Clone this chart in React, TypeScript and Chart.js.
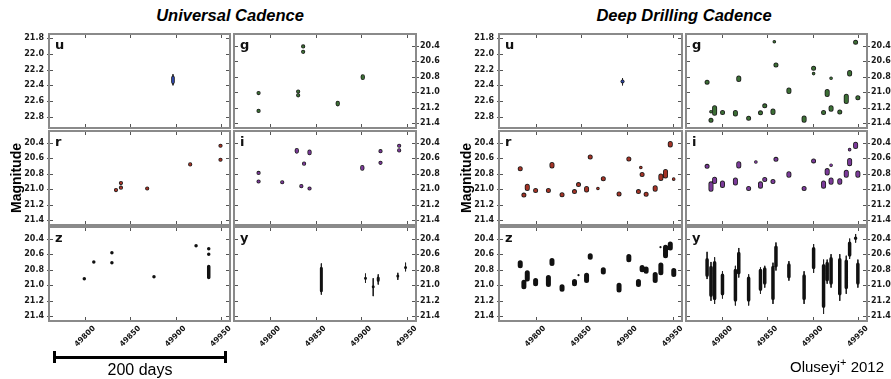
import React, { useEffect, useRef } from "react";
import { Chart, registerables } from "chart.js";
Chart.register(...registerables);

type Cl = [number, number, number]; // [MJD, first marker mag, last marker mag]

const X_MIN = 49760;
const X_MAX = 49960;
const X_TICKS = [49800, 49850, 49900, 49950];
const U_TICKS = [21.8, 22.0, 22.2, 22.4, 22.6, 22.8];
const MAG_TICKS = [20.4, 20.6, 20.8, 21.0, 21.2, 21.4];
const U_RANGE = [21.745, 22.945];
const MAG_RANGE = [20.25, 21.46];

// ---------- Universal Cadence ----------
const ucU: Cl[] = [[49897, 22.3, 22.36]];
const ucUErr: Cl[] = [[49897, 22.26, 22.4]];
const ucG: Cl[] = [
  [49836, 20.41, 20.41], [49836, 20.48, 20.48], [49787, 21.01, 21.01], [49787, 21.24, 21.24],
  [49830.5, 20.99, 20.99], [49830.5, 21.04, 21.04], [49874, 21.135, 21.155], [49901.5, 20.795, 20.815],
];
const ucR: Cl[] = [
  [49834, 21.01, 21.01], [49839.5, 20.92, 20.92], [49839.5, 20.98, 20.98], [49868.5, 20.99, 20.99],
  [49916, 20.68, 20.68], [49949.5, 20.44, 20.44], [49949.5, 20.62, 20.62],
];
const ucI: Cl[] = [
  [49787, 20.79, 20.79], [49787, 20.9, 20.9], [49813, 20.91, 20.91], [49829, 20.495, 20.515],
  [49843, 20.515, 20.535], [49837, 20.67, 20.67], [49834, 20.96, 20.96], [49843, 20.99, 20.99],
  [49901, 20.715, 20.735], [49921, 20.51, 20.51], [49921, 20.66, 20.66], [49941.5, 20.44, 20.44],
  [49941.5, 20.5, 20.5],
];
const ucZ: Cl[] = [
  [49799, 20.915, 20.915], [49809.5, 20.7, 20.7], [49829.5, 20.58, 20.58], [49829.5, 20.71, 20.71],
  [49876, 20.89, 20.89], [49922.5, 20.49, 20.49], [49936.5, 20.53, 20.53], [49936.5, 20.6, 20.6],
  [49936.5, 20.76, 20.9],
];
const ucY: Cl[] = [
  [49856, 20.78, 21.07], [49904.5, 20.91, 20.91], [49913, 21.02, 21.02], [49918.5, 20.905, 20.935],
  [49940, 20.88, 20.88], [49948.5, 20.77, 20.77],
];
const ucYErr: Cl[] = [
  [49856, 20.72, 21.12], [49904.5, 20.85, 20.97], [49913, 20.91, 21.14], [49918.5, 20.86, 20.99],
  [49940, 20.84, 20.93], [49948.5, 20.71, 20.82],
];

// ---------- Deep Drilling Cadence ----------
const ddU: Cl[] = [[49895, 22.35, 22.35]];
const ddUErr: Cl[] = [[49895, 22.31, 22.4]];
const ddG: Cl[] = [
  [49783.3, 20.87, 20.87], [49787.6, 21.36, 21.36], [49791.6, 21.2, 21.27], [49800.4, 21.26, 21.26],
  [49814.6, 21.26, 21.28], [49818.3, 20.815, 20.835], [49829.2, 21.335, 21.335], [49842.3, 21.265, 21.265],
  [49847, 21.175, 21.175], [49856.1, 21.24, 21.26], [49859.4, 20.65, 20.65], [49873.7, 20.97, 20.99],
  [49890.5, 21.33, 21.36], [49901, 20.69, 20.69], [49912, 21.26, 21.26], [49916, 20.99, 21.03],
  [49920.3, 21.2, 21.22], [49929.9, 21.255, 21.255], [49937.1, 21.05, 21.12], [49940.8, 20.745, 20.765],
  [49947.4, 20.355, 20.355], [49949.9, 21.07, 21.07],
];
const ddGSmall: Cl[] = [
  [49787.6, 21.25, 21.25], [49857.6, 20.35, 20.35], [49901, 20.76, 20.76], [49920.3, 20.82, 20.82],
];
const ddR: Cl[] = [
  [49783.2, 20.735, 20.735], [49787.2, 21.075, 21.075], [49790.9, 20.96, 20.99], [49800, 21.015, 21.015],
  [49814, 21.015, 21.015], [49817.9, 20.68, 20.7], [49828.9, 21.07, 21.07], [49842.5, 21.03, 21.03],
  [49846.9, 20.94, 20.94], [49855.7, 20.99, 21.01], [49859.7, 20.585, 20.585], [49874, 20.865, 20.865],
  [49891.2, 21.06, 21.06], [49901.9, 20.61, 20.61], [49912.4, 21.03, 21.03], [49916.4, 20.81, 20.81],
  [49920.8, 21.065, 21.065], [49930.7, 20.98, 21.0], [49936.9, 20.83, 20.86], [49942, 20.77, 20.83],
  [49947.2, 20.41, 20.43],
];
const ddRSmall: Cl[] = [[49868.1, 20.99, 20.99], [49915, 20.72, 20.72], [49950.9, 20.87, 20.87]];
const ddI: Cl[] = [
  [49783.3, 20.705, 20.705], [49787.6, 20.93, 21.0], [49791.6, 20.87, 20.9], [49800.3, 20.92, 20.95],
  [49814.6, 20.88, 20.92], [49818.3, 20.67, 20.7], [49829.2, 20.99, 20.99], [49842.3, 20.93, 20.96],
  [49847, 20.875, 20.875], [49856.1, 20.9, 20.9], [49859.4, 20.615, 20.615], [49873.7, 20.8, 20.82],
  [49890.5, 20.99, 20.99], [49901, 20.635, 20.635], [49912, 20.92, 20.96], [49916, 20.76, 20.79],
  [49920.3, 20.88, 20.91], [49929.9, 20.89, 20.91], [49937.1, 20.78, 20.82], [49940.8, 20.63, 20.67],
  [49947.4, 20.42, 20.45], [49949.9, 20.79, 20.82],
];
const ddISmall: Cl[] = [[49837.2, 20.65, 20.65], [49920.3, 20.69, 20.69], [49940.8, 20.49, 20.49]];
const ddZ: Cl[] = [
  [49783.2, 20.71, 20.75], [49787.2, 20.96, 21.02], [49790.9, 20.84, 20.92], [49800, 20.94, 20.98],
  [49814, 20.9, 20.99], [49817.9, 20.68, 20.72], [49828.9, 21.02, 21.05], [49842.5, 20.95, 20.98],
  [49855.7, 20.87, 20.94], [49859.7, 20.62, 20.64], [49874, 20.8, 20.83], [49891.2, 21.0, 21.06],
  [49901.9, 20.63, 20.67], [49912.4, 20.95, 20.99], [49916.4, 20.77, 20.8], [49920.8, 20.79, 20.82],
  [49930.7, 20.86, 20.94], [49936.9, 20.74, 20.84], [49942, 20.51, 20.62], [49947.2, 20.47, 20.52],
  [49951, 20.81, 20.86],
];
const ddZSmall: Cl[] = [[49846.9, 20.87, 20.87], [49936.5, 20.51, 20.51]];
const ddY: Cl[] = [
  [49783.3, 20.67, 20.87], [49787.6, 20.77, 21.13], [49791.6, 20.71, 21.17], [49800.3, 20.87, 21.11],
  [49814.6, 20.81, 21.19], [49818.3, 20.59, 20.84], [49829.2, 20.91, 21.19], [49842.3, 20.81, 21.05],
  [49847, 20.79, 20.97], [49856.1, 20.77, 21.17], [49859.4, 20.51, 20.75], [49873.7, 20.74, 20.89],
  [49890.5, 20.88, 21.17], [49901, 20.53, 20.77], [49912, 20.75, 21.27], [49916, 20.72, 20.93],
  [49920.3, 20.66, 20.97], [49929.9, 20.67, 21.11], [49937.1, 20.69, 21.03], [49940.8, 20.46, 20.61],
  [49947.4, 20.395, 20.395], [49949.9, 20.73, 20.97],
];
const ddYErr: Cl[] = [
  [49783.3, 20.57, 20.92], [49787.6, 20.7, 21.2], [49791.6, 20.64, 21.24], [49800.3, 20.82, 21.17],
  [49814.6, 20.75, 21.26], [49818.3, 20.52, 20.9], [49829.2, 20.86, 21.26], [49842.3, 20.77, 21.11],
  [49847, 20.75, 21.03], [49856.1, 20.71, 21.24], [49859.4, 20.45, 20.81], [49873.7, 20.69, 20.94],
  [49890.5, 20.82, 21.24], [49901, 20.47, 20.84], [49912, 20.67, 21.37], [49916, 20.67, 20.98],
  [49920.3, 20.6, 21.03], [49929.9, 20.6, 21.2], [49937.1, 20.62, 21.11], [49940.8, 20.4, 20.66],
  [49947.4, 20.34, 20.45], [49949.9, 20.67, 21.03],
];

// ---------- colours ----------
const C_U = "#2f47a8";
const C_G = "#3c6e35";
const C_R = "#a33326";
const C_I = "#7a3a98";
const C_K = "#111111";
const EDGE = "#1b1b1b";

const PAD = 3;
const YAXIS_W = 40;
const XAXIS_H = 46;

const framePlugin = {
  id: "frame",
  afterDraw(chart: any, _args: any, opts: any) {
    const { ctx, chartArea: a, scales } = chart;
    ctx.save();
    ctx.strokeStyle = "#555";
    ctx.lineWidth = 1;
    const line = (x1: number, y1: number, x2: number, y2: number) => {
      ctx.beginPath();
      ctx.moveTo(x1, y1);
      ctx.lineTo(x2, y2);
      ctx.stroke();
    };
    X_TICKS.forEach((v) => {
      const x = Math.round(scales.x.getPixelForValue(v)) + 0.5;
      line(x, a.top, x, a.top + 4);
      line(x, a.bottom, x, a.bottom - 4);
    });
    (opts.yticks as number[]).forEach((v) => {
      const y = Math.round(scales.y.getPixelForValue(v)) + 0.5;
      line(a.left, y, a.left + 4, y);
      line(a.right, y, a.right - 4, y);
      if (opts.side === "right") line(a.right, y, a.right + 3, y);
      else line(a.left, y, a.left - 2, y);
    });
    ctx.strokeStyle = "#8a8a8a";
    ctx.lineWidth = 2;
    ctx.strokeRect(a.left, a.top, a.right - a.left, a.bottom - a.top);
    ctx.fillStyle = "#111";
    ctx.font = 'bold 13px "DejaVu Sans"';
    ctx.textBaseline = "alphabetic";
    ctx.textAlign = "left";
    ctx.fillText(opts.letter, a.left + 6, a.top + 15);
    ctx.restore();
  },
};

type PanelProps = {
  left: number;
  top: number;
  width: number;
  height: number;
  side: "left" | "right";
  bottom: boolean;
  letter: string;
  yticks: number[];
  range: number[];
  color: string;
  core: Cl[];
  small?: Cl[];
  err?: Cl[];
  thick: number;
};

// each cluster becomes a vertical stroke from its first to its last marker, separated by gaps
const toSegments = (arr: Cl[]) =>
  arr.flatMap((c) => [
    { x: c[0], y: c[1] },
    { x: c[0], y: c[2] },
    { x: c[0], y: null },
  ]);

const strokeSet = (data: any[], color: string, width: number, cap: string, order: number) => ({
  type: "line",
  data,
  borderColor: color,
  backgroundColor: color,
  borderWidth: width,
  borderCapStyle: cap,
  pointRadius: 0,
  pointHoverRadius: 0,
  spanGaps: false,
  fill: false,
  tension: 0,
  order,
});

function Panel(p: PanelProps) {
  const ref = useRef<HTMLCanvasElement>(null);
  const cw = p.width + 2 * PAD + YAXIS_W;
  const ch = p.height + 2 * PAD + (p.bottom ? XAXIS_H : 0);
  const cl = p.left - PAD - (p.side === "left" ? YAXIS_W : 0);
  const ct = p.top - PAD;
  useEffect(() => {
    if (!ref.current) return;
    const datasets: any[] = [];
    const core = toSegments(p.core);
    const black = p.color === C_K;
    datasets.push(strokeSet(core, p.color, p.thick, "round", 0));
    if (!black) datasets.push(strokeSet(core, EDGE, p.thick + 1.6, "round", 1));
    if (p.small) {
      const sm = toSegments(p.small);
      datasets.push(strokeSet(sm, p.color, 2.2, "round", 0));
      if (!black) datasets.push(strokeSet(sm, EDGE, 3.6, "round", 1));
    }
    if (p.err) datasets.push(strokeSet(toSegments(p.err), "#222", 1, "butt", 2));
    const zeroPad = (s: any) => {
      s.paddingLeft = 0;
      s.paddingRight = 0;
      s.paddingTop = 0;
      s.paddingBottom = 0;
    };
    const chart = new Chart(ref.current, {
      type: "line",
      data: { datasets },
      plugins: [framePlugin],
      options: {
        animation: false,
        responsive: false,
        maintainAspectRatio: false,
        events: [],
        layout: { padding: { left: PAD, right: PAD, top: PAD, bottom: PAD } },
        plugins: {
          legend: { display: false },
          tooltip: { enabled: false },
          frame: { letter: p.letter, yticks: p.yticks, side: p.side },
        } as any,
        scales: {
          x: {
            type: "linear",
            min: X_MIN,
            max: X_MAX,
            offset: false,
            position: "bottom",
            grid: { display: false, drawTicks: false },
            border: { display: false },
            afterBuildTicks: (s: any) => {
              s.ticks = X_TICKS.map((v) => ({ value: v }));
            },
            afterFit: (s: any) => {
              s.height = p.bottom ? XAXIS_H : 0;
              zeroPad(s);
            },
            ticks: {
              display: p.bottom,
              autoSkip: false,
              maxRotation: 45,
              minRotation: 45,
              padding: 3,
              labelOffset: 9,
              color: "#111",
              font: { family: "DejaVu Sans", size: 7.5, weight: "bold" },
              callback: (v: any) => String(v),
            },
          },
          y: {
            type: "linear",
            reverse: true,
            min: p.range[0],
            max: p.range[1],
            position: p.side,
            grid: { display: false, drawTicks: false },
            border: { display: false },
            afterBuildTicks: (s: any) => {
              s.ticks = p.yticks.map((v) => ({ value: v }));
            },
            afterFit: (s: any) => {
              s.width = YAXIS_W;
              zeroPad(s);
            },
            ticks: {
              autoSkip: false,
              padding: p.side === "left" ? 5 : 4,
              color: "#1a1a1a",
              font: { family: "DejaVu Sans", size: 8, weight: "bold" },
              callback: (v: any) => Number(v).toFixed(1),
            },
          },
        },
      } as any,
    });
    return () => chart.destroy();
  }, []);
  return (
    <canvas
      ref={ref}
      width={cw}
      height={ch}
      style={{ position: "absolute", left: cl, top: ct, width: cw, height: ch }}
    />
  );
}

const COLS = { A: [49, 181], B: [234, 182], C: [499, 183], D: [686, 181] };
const ROWS = { 1: [34, 94], 2: [131, 94], 3: [227, 94] };

const txt: React.CSSProperties = {
  position: "absolute",
  whiteSpace: "nowrap",
  fontFamily: '"Liberation Sans", Arial, sans-serif',
  color: "#000",
  lineHeight: 1,
};

export default function App() {
  const mk = (
    key: string,
    col: keyof typeof COLS,
    row: 1 | 2 | 3,
    letter: string,
    color: string,
    core: Cl[],
    thick: number,
    extra: Partial<PanelProps> = {}
  ) => {
    const [l, w] = COLS[col];
    const [t, h] = ROWS[row];
    const side = col === "A" || col === "C" ? "left" : "right";
    const isU = letter === "u";
    return (
      <Panel
        key={key}
        left={l}
        top={t}
        width={w}
        height={h}
        side={side}
        bottom={row === 3}
        letter={letter}
        yticks={isU ? U_TICKS : MAG_TICKS}
        range={isU ? U_RANGE : MAG_RANGE}
        color={color}
        core={core}
        thick={thick}
        {...extra}
      />
    );
  };
  return (
    <div style={{ position: "fixed", left: 0, top: 0, width: 891, height: 379, background: "#fff", overflow: "hidden" }}>
      {mk("ucu", "A", 1, "u", C_U, ucU, 2, { err: ucUErr })}
      {mk("ucg", "B", 1, "g", C_G, ucG, 2.6)}
      {mk("ucr", "A", 2, "r", C_R, ucR, 2.6)}
      {mk("uci", "B", 2, "i", C_I, ucI, 2.6)}
      {mk("ucz", "A", 3, "z", C_K, ucZ, 3.5)}
      {mk("ucy", "B", 3, "y", C_K, ucY, 3, { err: ucYErr })}
      {mk("ddu", "C", 1, "u", C_U, ddU, 2.4, { err: ddUErr })}
      {mk("ddg", "D", 1, "g", C_G, ddG, 3.4, { small: ddGSmall })}
      {mk("ddr", "C", 2, "r", C_R, ddR, 3.4, { small: ddRSmall })}
      {mk("ddi", "D", 2, "i", C_I, ddI, 3.4, { small: ddISmall })}
      {mk("ddz", "C", 3, "z", C_K, ddZ, 5, { small: ddZSmall })}
      {mk("ddy", "D", 3, "y", C_K, ddY, 3.5, { err: ddYErr })}

      <div style={{ ...txt, left: 230, top: 15, transform: "translate(-50%,-50%)", fontSize: 16.5, fontWeight: "bold", fontStyle: "italic" }}>
        Universal Cadence
      </div>
      <div style={{ ...txt, left: 684, top: 15, transform: "translate(-50%,-50%)", fontSize: 16.5, fontWeight: "bold", fontStyle: "italic" }}>
        Deep Drilling Cadence
      </div>
      <div style={{ ...txt, left: 16, top: 178, transform: "translate(-50%,-50%) rotate(-90deg)", fontSize: 14, fontWeight: "bold" }}>
        Magnitude
      </div>
      <div style={{ ...txt, left: 466, top: 178, transform: "translate(-50%,-50%) rotate(-90deg)", fontSize: 14, fontWeight: "bold" }}>
        Magnitude
      </div>
      <div style={{ position: "absolute", left: 53, top: 356, width: 174, height: 3, background: "#000" }} />
      <div style={{ position: "absolute", left: 53, top: 351, width: 3, height: 12, background: "#000" }} />
      <div style={{ position: "absolute", left: 224, top: 351, width: 3, height: 12, background: "#000" }} />
      <div style={{ ...txt, left: 140, top: 370, transform: "translate(-50%,-50%)", fontSize: 16 }}>200 days</div>
      <div style={{ ...txt, left: 790, top: 359, fontSize: 15 }}>
        Oluseyi<sup style={{ fontSize: 11, verticalAlign: "6px", lineHeight: 0 }}>+</sup> 2012
      </div>
    </div>
  );
}
